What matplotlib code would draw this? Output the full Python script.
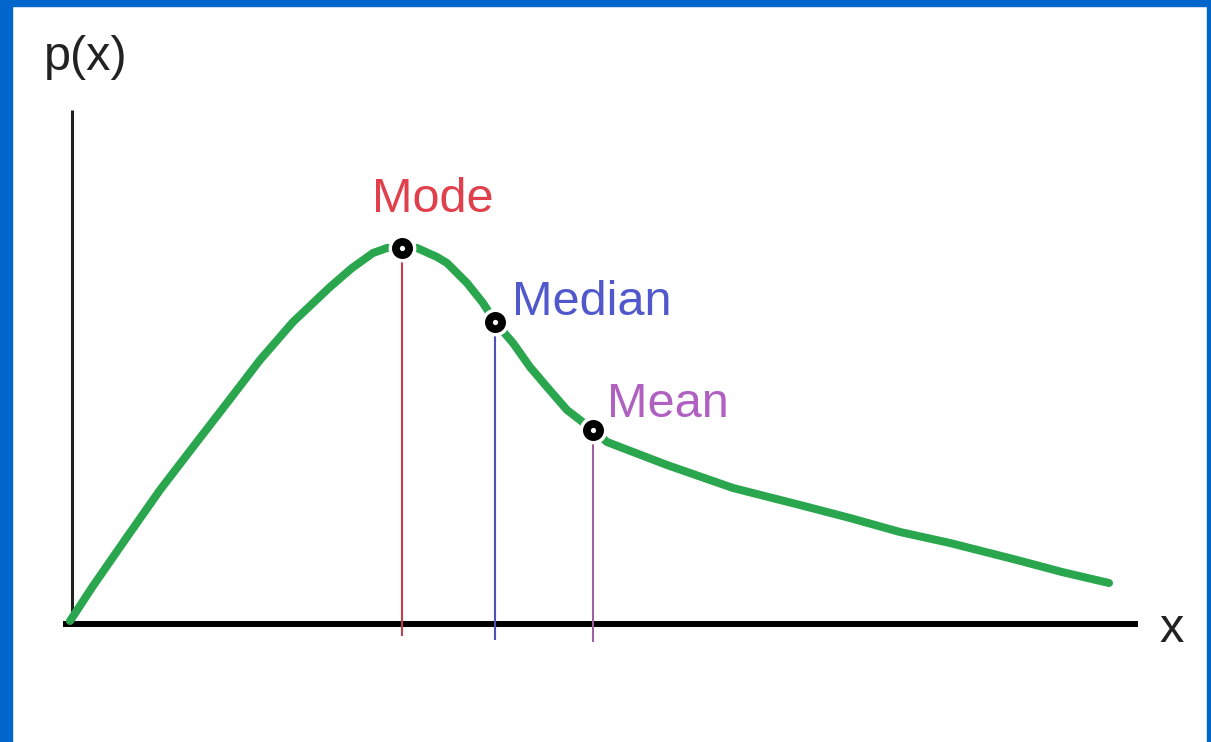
import matplotlib
matplotlib.use("Agg")
import matplotlib.pyplot as plt
from matplotlib.patches import Rectangle

plt.rcParams['font.family'] = ['Liberation Sans', 'DejaVu Sans']

# Curve (x, p(x)) in arbitrary units
curve_x = [-0.02, 0.21, 0.55, 0.88, 1.21, 1.55, 1.88, 2.21, 2.58, 2.80, 3.01, 3.15,
           3.30, 3.45, 3.65, 3.75, 3.95, 4.11, 4.23, 4.41, 4.58, 4.75, 4.95, 5.21,
           5.35, 5.95, 6.61, 7.28, 7.78, 8.28, 8.78, 9.45, 9.90, 10.37]
curve_p = [0.03, 0.38, 0.87, 1.34, 1.77, 2.21, 2.64, 3.02, 3.37, 3.56, 3.71, 3.76,
           3.76, 3.76, 3.67, 3.61, 3.41, 3.21, 3.02, 2.81, 2.57, 2.37, 2.14, 1.94,
           1.82, 1.59, 1.36, 1.19, 1.06, 0.92, 0.81, 0.64, 0.52, 0.41]

# Marked statistics
stat_names = ["Mode", "Median", "Mean"]
stat_x = [3.30, 4.23, 5.21]
stat_p = [3.76, 3.02, 1.94]
stat_bottom = [-0.12, -0.16, -0.18]
stat_text_colors = ["#e0404c", "#5058cc", "#b060c0"]
stat_line_colors = ["#c04050", "#5050b8", "#a060a0"]
label_x = [3.00, 4.40, 5.35]
label_p = [4.12, 3.09, 2.07]

# Axis extents
yaxis_top = 5.14
xaxis_left, xaxis_right = -0.09, 10.66
y_label = "p(x)"
x_label = "x"

W, H = 1211, 742
fig = plt.figure(figsize=(W / 100, H / 100), dpi=100)
fig.patch.set_facecolor("white")
ax = fig.add_axes([0, 0, 1, 1])
ax.set_xlim(-0.72, 11.39)
ax.set_ylim(-1.18, 6.24)
ax.axis("off")

# axes lines
ax.plot([0, 0], [0, yaxis_top], color="#222222", lw=2.2, solid_capstyle="butt", zorder=2)
ax.plot([xaxis_left, xaxis_right], [0, 0], color="black", lw=4.3, solid_capstyle="butt", zorder=2)

# stems
for sx, sp, sb, c in zip(stat_x, stat_p, stat_bottom, stat_line_colors):
    ax.plot([sx, sx], [sb, sp], color=c, lw=1.5, zorder=3, solid_capstyle="butt")

# curve
ax.plot(curve_x, curve_p, color="#2aa64e", lw=5.8, solid_capstyle="round",
        solid_joinstyle="round", zorder=4)

# markers: white halo then black ring
ax.plot(stat_x, stat_p, "o", ms=20, color="white", mew=0, zorder=5, ls="none")
ax.plot(stat_x, stat_p, "o", ms=9.5, mfc="white", mec="black", mew=5.6, zorder=6, ls="none")

for name, lx, lp, c in zip(stat_names, label_x, label_p, stat_text_colors):
    ax.text(lx, lp, name, color=c, fontsize=35, ha="left", va="baseline")

ax.text(-0.28, 5.54, y_label, color="#222222", fontsize=35, ha="left", va="baseline")
ax.text(10.87, -0.18, x_label, color="#222222", fontsize=35, ha="left", va="baseline")

# blue frame
blue = "#0066cc"
fig.add_artist(Rectangle((0, 0), 12 / W, 1, transform=fig.transFigure, color=blue, zorder=10))
fig.add_artist(Rectangle((0, 1 - 6 / H), 1, 6 / H, transform=fig.transFigure, color=blue, zorder=10))
fig.add_artist(Rectangle((1 - 4 / W, 0), 4 / W, 1, transform=fig.transFigure, color=blue, zorder=10))

fig.savefig("out.png", dpi=100, facecolor="white")
